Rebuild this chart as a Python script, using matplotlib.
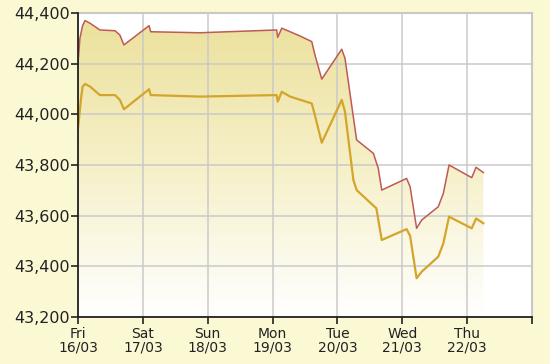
import numpy as np
import matplotlib
matplotlib.use("Agg")
import matplotlib.pyplot as plt
from matplotlib.ticker import FuncFormatter, MultipleLocator
from matplotlib.colors import LinearSegmentedColormap

# hours since Fri 16/03 00:00
upper_hours = [0, 0.7, 1.7, 2.6, 4.4, 8.1, 13.7, 15.5, 17.0, 26.3, 26.9, 45.1,
               73.5, 73.9, 75.4, 78.5, 82.2, 86.5, 87.7, 90.2, 97.6, 98.8, 103.1,
               109.3, 111.1, 112.4, 121.6, 122.9, 125.3, 127.2, 133.3, 135.2,
               137.3, 145.7, 147.3, 150.0]
upper_values = [44200, 44300, 44350, 44370, 44360, 44333, 44330, 44313, 44274,
                44350, 44326, 44322, 44333, 44304, 44340, 44326, 44309, 44287,
                44234, 44139, 44257, 44221, 43899, 43846, 43787, 43701, 43747,
                43714, 43550, 43583, 43635, 43688, 43800, 43750, 43791, 43770]

lower_hours = [0, 1.1, 1.7, 2.6, 4.4, 8.1, 13.7, 15.5, 17.0, 26.3, 26.9, 45.1,
               73.5, 73.9, 75.4, 78.5, 86.5, 87.7, 90.2, 97.6, 98.8, 101.9,
               103.1, 110.4, 112.4, 121.6, 122.9, 125.3, 127.2, 133.3, 135.2,
               137.3, 145.7, 147.3, 150.0]
lower_values = [43945, 44060, 44109, 44120, 44110, 44076, 44076, 44057, 44020,
                44099, 44076, 44070, 44076, 44050, 44089, 44070, 44043, 43995,
                43888, 44057, 44010, 43741, 43701, 43629, 43504, 43547, 43520,
                43353, 43379, 43438, 43491, 43596, 43550, 43589, 43570]

day_ticks = [0, 24, 48, 72, 96, 120, 144, 168]
day_labels = ["Fri\n16/03", "Sat\n17/03", "Sun\n18/03", "Mon\n19/03",
              "Tue\n20/03", "Wed\n21/03", "Thu\n22/03", ""]

y_min, y_max = 43200, 44400

bg = "#FBF8D4"
fig = plt.figure(figsize=(5.5, 3.64), dpi=100, facecolor=bg)
ax = fig.add_axes([78/550, 1-317/364, (532-78)/550, (317-13)/364])
ax.set_facecolor("white")
ax.set_xlim(0, 168)
ax.set_ylim(y_min, y_max)

# gradient fill under the upper line
cmap = LinearSegmentedColormap.from_list("g", ["#FFFFFF", "#F6F0C8", "#EBE09A"])
grad = np.linspace(0, 1, 256).reshape(-1, 1)
poly = ax.fill_between(upper_hours, upper_values, y_min, color="none", lw=0)
img = ax.imshow(grad, extent=[0, 168, y_min, y_max], origin="lower",
                aspect="auto", cmap=cmap, zorder=1)
path = poly.get_paths()[0]
img.set_clip_path(path, transform=ax.transData)

ax.grid(True, color="#C8C8C8", lw=1.4, alpha=0.75, zorder=2)
ax.set_axisbelow(False)

ax.plot(upper_hours, upper_values, color="#BE5A55", lw=1.1, zorder=3)
ax.plot(lower_hours, lower_values, color="#D4A52A", lw=1.6, zorder=3)

ax.xaxis.set_major_locator(plt.FixedLocator(day_ticks))
ax.set_xticklabels(day_labels)
ax.yaxis.set_major_locator(MultipleLocator(200))
ax.yaxis.set_major_formatter(FuncFormatter(lambda v, p: f"{int(v):,}"))

for s in ["top", "right"]:
    ax.spines[s].set_color("#C8C8C8")
    ax.spines[s].set_linewidth(1.5)
for s in ["left", "bottom"]:
    ax.spines[s].set_color("#222222")
    ax.spines[s].set_linewidth(1.3)
    ax.spines[s].set_zorder(4)

ax.tick_params(axis="y", direction="out", length=5, width=1.2, color="#222222",
               labelsize=11.5, labelcolor="#222222", pad=1)
ax.tick_params(axis="x", direction="out", length=5, width=1.2, color="#222222",
               labelsize=10, labelcolor="#222222", pad=2)
for t in ax.get_xticklabels():
    t.set_linespacing(1.0)

fig.savefig("out.png", dpi=100, facecolor=bg)
